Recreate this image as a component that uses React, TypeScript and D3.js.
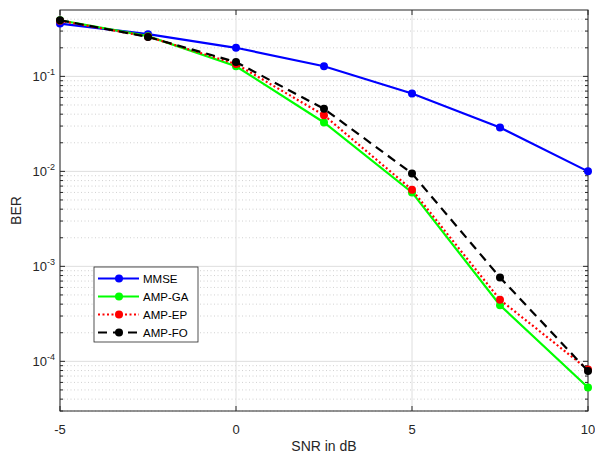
import React from 'react';
import * as d3 from 'd3';

const snr = [-5, -2.5, 0, 2.5, 5, 7.5, 10];
const mmse = [0.36, 0.278, 0.2, 0.128, 0.066, 0.029, 0.01];
const ampGA = [0.39, 0.265, 0.128, 0.0327, 0.006, 0.00039, 0.000053];
const ampEP = [0.385, 0.262, 0.135, 0.039, 0.0064, 0.000445, 0.000082];
const ampFO = [0.39, 0.26, 0.1415, 0.0456, 0.0095, 0.000765, 0.000079];
const seriesNames = ['MMSE', 'AMP-GA', 'AMP-EP', 'AMP-FO'];
const xTicks = [-5, 0, 5, 10];
const yDecades = [-4, -3, -2, -1];

const series = [
  { name: seriesNames[0], values: mmse, color: '#0000ff', dash: '' },
  { name: seriesNames[1], values: ampGA, color: '#00ff00', dash: '' },
  { name: seriesNames[2], values: ampEP, color: '#ff0000', dash: '2,2.5' },
  { name: seriesNames[3], values: ampFO, color: '#000000', dash: '9,6' },
];

const width = 595;
const height = 456;
const left = 60;
const right = 588;
const top = 10;
const bottom = 411;
const font = '"Liberation Sans", Arial, Helvetica, sans-serif';
const axisColor = '#262626';

export default function App() {
  const x = d3.scaleLinear().domain([-5, 10]).range([left, right]);
  const y = d3.scaleLog().domain([3e-5, 0.5]).range([bottom, top]);

  const line = d3
    .line<number>()
    .x((_, i) => x(snr[i]))
    .y((d) => y(d));

  // minor values 2..9 per decade inside the domain
  const minor: number[] = [];
  for (let e = -5; e <= 0; e++) {
    for (let m = 2; m <= 9; m++) {
      const v = m * Math.pow(10, e);
      if (v > 3e-5 && v < 0.5) minor.push(v);
    }
  }

  const legendX = 94;
  const legendY = 267;
  const legendRows = [278.5, 296.5, 314.5, 332.5];

  return (
    <svg width={width} height={height} style={{ position: 'absolute', left: 0, top: 0 }} fontFamily={font}>
      <rect x={0} y={0} width={width} height={height} fill="#fff" />
      {/* minor grid */}
      {minor.map((v) => (
        <line key={'mg' + v} x1={left} x2={right} y1={y(v)} y2={y(v)} stroke="#bdbdbd" strokeWidth={0.7} strokeDasharray="1,2.5" />
      ))}
      {/* major grid */}
      {yDecades.map((e) => (
        <line key={'yg' + e} x1={left} x2={right} y1={y(Math.pow(10, e))} y2={y(Math.pow(10, e))} stroke="#dedede" strokeWidth={1} />
      ))}
      {xTicks.map((t) => (
        <line key={'xg' + t} x1={x(t)} x2={x(t)} y1={top} y2={bottom} stroke="#dedede" strokeWidth={1} />
      ))}

      {/* box */}
      <rect x={left} y={top} width={right - left} height={bottom - top} fill="none" stroke={axisColor} strokeWidth={1} />

      {/* ticks */}
      {xTicks.map((t) => (
        <g key={'xt' + t}>
          <line x1={x(t)} x2={x(t)} y1={bottom} y2={bottom - 5} stroke={axisColor} />
          <line x1={x(t)} x2={x(t)} y1={top} y2={top + 5} stroke={axisColor} />
          <text x={x(t)} y={434} textAnchor="middle" fontSize={13} fill={axisColor}>{t}</text>
        </g>
      ))}
      {yDecades.map((e) => {
        const yy = y(Math.pow(10, e));
        return (
          <g key={'yt' + e}>
            <line x1={left} x2={left + 5} y1={yy} y2={yy} stroke={axisColor} />
            <line x1={right} x2={right - 5} y1={yy} y2={yy} stroke={axisColor} />
            <text x={55} y={yy + 5} textAnchor="end" fontSize={13} fill={axisColor}>
              10<tspan dy={-6} fontSize={9}>{e}</tspan>
            </text>
          </g>
        );
      })}
      {minor.map((v) => (
        <g key={'mt' + v}>
          <line x1={left} x2={left + 3} y1={y(v)} y2={y(v)} stroke={axisColor} />
          <line x1={right} x2={right - 3} y1={y(v)} y2={y(v)} stroke={axisColor} />
        </g>
      ))}

      {/* series */}
      {series.map((s) => (
        <g key={s.name}>
          <path d={line(s.values) ?? ''} fill="none" stroke={s.color} strokeWidth={2.2} strokeDasharray={s.dash} />
          {s.values.map((v, i) => (
            <circle key={i} cx={x(snr[i])} cy={y(v)} r={4} fill={s.color} />
          ))}
        </g>
      ))}

      {/* axis labels */}
      <text x={(left + right) / 2} y={451} textAnchor="middle" fontSize={14} fill={axisColor}>SNR in dB</text>
      <text transform={`translate(21, ${(top + bottom) / 2}) rotate(-90)`} textAnchor="middle" fontSize={14} fill={axisColor}>BER</text>

      {/* legend */}
      <rect x={legendX} y={legendY} width={104} height={75} fill="#fff" stroke={axisColor} strokeWidth={0.8} />
      {series.map((s, i) => (
        <g key={'lg' + s.name}>
          <line x1={98} x2={139} y1={legendRows[i]} y2={legendRows[i]} stroke={s.color} strokeWidth={2.2} strokeDasharray={s.dash} />
          <circle cx={119} cy={legendRows[i]} r={4} fill={s.color} />
          <text x={143} y={legendRows[i] + 4} fontSize={11.5} fill="#000">{s.name}</text>
        </g>
      ))}
    </svg>
  );
}
